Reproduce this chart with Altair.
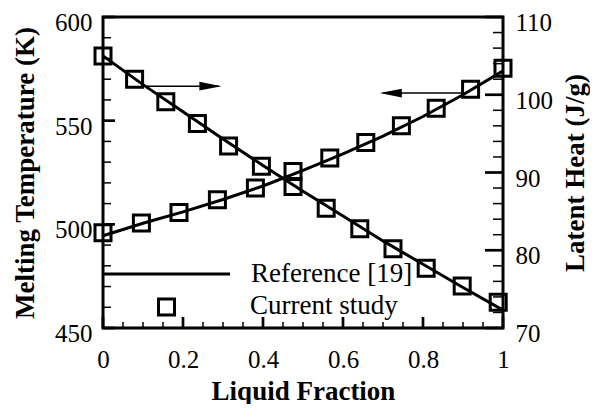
import altair as alt
import pandas as pd

# ---------------- data ----------------
# Melting temperature (left axis), current study (squares)
lf_cur_T = [0.0, 0.096, 0.19, 0.286, 0.381, 0.475, 0.567, 0.657, 0.746, 0.833, 0.919, 1.0]
T_cur = [496.0, 500.7, 505.7, 511.9, 517.5, 525.5, 532.0, 539.5, 547.5, 556.0, 565.2, 575.3]
# Latent heat (right axis), current study (squares)
lf_cur_L = [0.0, 0.079, 0.157, 0.236, 0.314, 0.396, 0.475, 0.558, 0.642, 0.725, 0.808, 0.898, 0.988]
L_cur = [105.0, 102.0, 99.1, 96.3, 93.4, 90.8, 88.2, 85.4, 82.75, 80.2, 77.7, 75.4, 73.3]
# Reference [19] curves (lines)
lf_ref = [0.0, 0.1, 0.2, 0.3, 0.4, 0.5, 0.6, 0.7, 0.8, 0.9, 1.0]
T_ref = [494.5, 500.5, 506.0, 512.0, 518.5, 526.0, 534.0, 542.5, 552.0, 562.5, 574.0]
L_ref = [105.0, 101.3, 97.8, 94.3, 90.9, 87.6, 84.4, 81.2, 78.2, 75.2, 72.3]

# tick values / labels
x_major = [0, 0.2, 0.4, 0.6, 0.8, 1.0]
x_minor = [0.05, 0.1, 0.15, 0.25, 0.3, 0.35, 0.45, 0.5, 0.55, 0.65, 0.7, 0.75, 0.85, 0.9, 0.95]
T_major = [450, 500, 550, 600]
T_minor = [460, 470, 480, 490, 510, 520, 530, 540, 560, 570, 580, 590]
L_major = [70, 80, 90, 100, 110]
L_minor = [72, 74, 76, 78, 82, 84, 86, 88, 92, 94, 96, 98, 102, 104, 106, 108]

legend_labels = ["Reference [19]", "Current study"]
x_title = "Liquid Fraction"
T_title = "Melting Temperature (K)"
L_title = "Latent Heat (J/g)"

# annotation arrows (start, tip) in data units
arrow_L = {"x": [0.10], "x2": [0.29], "tip": [0.296], "y": [101.1]}   # points to the right axis
arrow_T = {"x": [0.90], "x2": [0.70], "tip": [0.692], "y": [563.3]}   # points to the left axis

# ---------------- styling ----------------
W, H = 400, 311
FONT = "Liberation Serif"
BLACK = "black"

xs = alt.Scale(domain=[0, 1], nice=False, zero=False)
Ts = alt.Scale(domain=[450, 600], nice=False, zero=False)
Ls = alt.Scale(domain=[70, 110], nice=False, zero=False)

common_axis = dict(
    domain=False, ticks=False, tickSize=0, grid=False,
    labelFont=FONT, labelFontSize=25, labelColor=BLACK,
    labelOverlap=False, labelFlush=False,
    titleFont=FONT, titleFontSize=27, titleFontWeight="bold", titleColor=BLACK,
)

x_axis = alt.Axis(values=x_major, format="~g", title=x_title, labelPadding=19,
                  titleX=W / 2, titleY=71, titleBaseline="alphabetic", **common_axis)
T_axis = alt.Axis(orient="left", values=T_major, title=T_title, labelPadding=11, labelOffset=5.5,
                  titleAngle=270, titleX=-70, titleY=H / 2, titleBaseline="alphabetic",
                  **common_axis)
L_axis = alt.Axis(orient="right", values=L_major, title=L_title, labelPadding=12, labelOffset=5.5,
                  titleAngle=270, titleX=80, titleY=H / 2, titleBaseline="alphabetic",
                  **common_axis)

ref_df = pd.DataFrame({"lf": lf_ref, "T": T_ref, "L": L_ref})
curT_df = pd.DataFrame({"lf": lf_cur_T, "T": T_cur})
curL_df = pd.DataFrame({"lf": lf_cur_L, "L": L_cur})

square = dict(shape="square", filled=False, size=256, strokeWidth=3, color=BLACK, opacity=1)
head_right = "M0,0L-2,-0.4L-2,0.4Z"
head_left = "M0,0L2,-0.4L2,0.4Z"

# ---------- temperature group (left axis) ----------
T_line = alt.Chart(ref_df).mark_line(color=BLACK, strokeWidth=3).encode(
    x=alt.X("lf:Q", scale=xs, axis=x_axis),
    y=alt.Y("T:Q", scale=Ts, axis=T_axis),
)
T_pts = alt.Chart(curT_df).mark_point(**square).encode(
    x=alt.X("lf:Q", scale=xs),
    y=alt.Y("T:Q", scale=Ts),
)
aT_df = pd.DataFrame(arrow_T)
T_arrow = alt.Chart(aT_df).mark_rule(color=BLACK, strokeWidth=1.5).encode(
    x=alt.X("x:Q", scale=xs), x2="x2:Q",
    y=alt.Y("y:Q", scale=Ts),
)
T_head = alt.Chart(aT_df).mark_point(shape=head_left, size=484, filled=True, color=BLACK,
                                     opacity=1, strokeWidth=0).encode(
    x=alt.X("tip:Q", scale=xs),
    y=alt.Y("y:Q", scale=Ts),
)
T_maj = alt.Chart(pd.DataFrame({"v": T_major})).mark_rule(color=BLACK, strokeWidth=2.7).encode(
    y=alt.Y("v:Q", scale=Ts), x=alt.value(0), x2=alt.value(12))
T_min = alt.Chart(pd.DataFrame({"v": T_minor})).mark_rule(color=BLACK, strokeWidth=1.5).encode(
    y=alt.Y("v:Q", scale=Ts), x=alt.value(0), x2=alt.value(8))
x_maj = alt.Chart(pd.DataFrame({"v": x_major})).mark_rule(color=BLACK, strokeWidth=2.7).encode(
    x=alt.X("v:Q", scale=xs), y=alt.value(H - 11), y2=alt.value(H))
x_min = alt.Chart(pd.DataFrame({"v": x_minor})).mark_rule(color=BLACK, strokeWidth=1.5).encode(
    x=alt.X("v:Q", scale=xs), y=alt.value(H - 6), y2=alt.value(H))

# legend (placed in pixels inside the plot area)
leg1 = pd.DataFrame({"label": [legend_labels[0]]})
leg2 = pd.DataFrame({"label": [legend_labels[1]]})
leg_line = alt.Chart(leg1).mark_rule(color=BLACK, strokeWidth=3).encode(
    x=alt.value(0), x2=alt.value(127), y=alt.value(257))
leg_text1 = alt.Chart(leg1).mark_text(align="left", baseline="middle", font=FONT, fontSize=27,
                                      color=BLACK).encode(
    text="label:N", x=alt.value(148), y=alt.value(257))
leg_sq = alt.Chart(leg2).mark_point(**square).encode(x=alt.value(63.5), y=alt.value(290))
leg_text2 = alt.Chart(leg2).mark_text(align="left", baseline="middle", font=FONT, fontSize=27,
                                      color=BLACK).encode(
    text="label:N", x=alt.value(147), y=alt.value(289))

T_group = alt.layer(T_line, T_pts, T_arrow, T_head, T_maj, T_min, x_maj, x_min,
                    leg_line, leg_text1, leg_sq, leg_text2)

# ---------- latent heat group (right axis) ----------
L_line = alt.Chart(ref_df).mark_line(color=BLACK, strokeWidth=3).encode(
    x=alt.X("lf:Q", scale=xs),
    y=alt.Y("L:Q", scale=Ls, axis=L_axis),
)
L_pts = alt.Chart(curL_df).mark_point(**square).encode(
    x=alt.X("lf:Q", scale=xs),
    y=alt.Y("L:Q", scale=Ls),
)
aL_df = pd.DataFrame(arrow_L)
L_arrow = alt.Chart(aL_df).mark_rule(color=BLACK, strokeWidth=1.5).encode(
    x=alt.X("x:Q", scale=xs), x2="x2:Q",
    y=alt.Y("y:Q", scale=Ls),
)
L_head = alt.Chart(aL_df).mark_point(shape=head_right, size=484, filled=True, color=BLACK,
                                     opacity=1, strokeWidth=0).encode(
    x=alt.X("tip:Q", scale=xs),
    y=alt.Y("y:Q", scale=Ls),
)
L_maj = alt.Chart(pd.DataFrame({"v": L_major})).mark_rule(color=BLACK, strokeWidth=2.7).encode(
    y=alt.Y("v:Q", scale=Ls), x=alt.value(W - 18), x2=alt.value(W))
L_min = alt.Chart(pd.DataFrame({"v": L_minor})).mark_rule(color=BLACK, strokeWidth=1.5).encode(
    y=alt.Y("v:Q", scale=Ls), x=alt.value(W - 10), x2=alt.value(W))

L_group = alt.layer(L_line, L_pts, L_arrow, L_head, L_maj, L_min)

chart = (
    alt.layer(T_group, L_group)
    .resolve_scale(y="independent")
    .properties(
        width=W, height=H, background="white",
        autosize=alt.AutoSizeParams(type="none"),
        padding={"left": 95, "top": 9, "right": 87, "bottom": 76},
    )
    .configure_view(stroke=BLACK, strokeWidth=3)
)

chart.save("out.html", embed_options={"renderer": "svg", "actions": False})
